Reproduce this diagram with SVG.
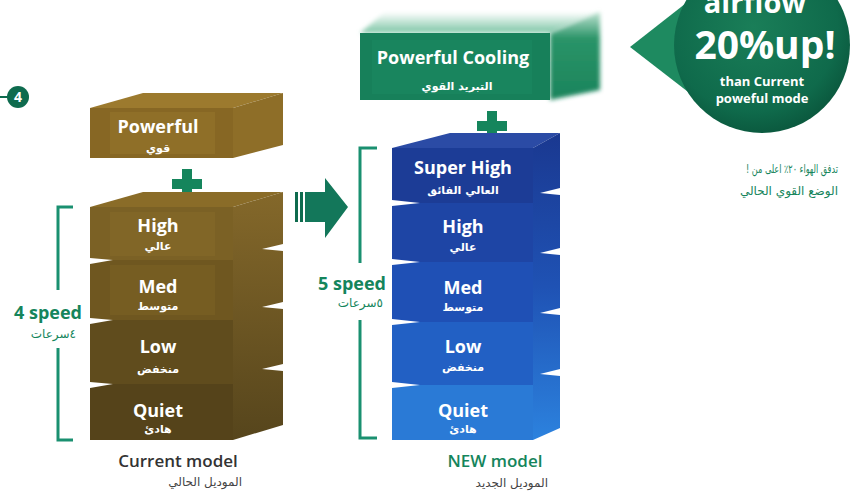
<svg xmlns="http://www.w3.org/2000/svg" width="865" height="491" viewBox="0 0 865 491">
<defs>
<style>
.lbl{font-family:"Open Sans","DejaVu Sans",sans-serif;font-weight:700;font-size:18px;fill:#fff;text-anchor:middle}
.ar{font-family:"DejaVu Sans","Noto Sans",sans-serif;font-weight:700;font-size:11px;fill:#fff;text-anchor:middle}
.grn{fill:#15855c}
.brk{fill:none;stroke:#1a9070;stroke-width:3}
.notch{fill:#fff}
.cap{font-family:"Open Sans","DejaVu Sans",sans-serif;font-size:17px;font-weight:600;text-anchor:middle}
</style>
<linearGradient id="gTop" x1="0" y1="1" x2="0" y2="0">
<stop offset="0" stop-color="#7cc5a5"/><stop offset="1" stop-color="#ffffff"/>
</linearGradient>
<linearGradient id="gRightG" x1="0" y1="0" x2="0" y2="1">
<stop offset="0" stop-color="#bfe3d2"/><stop offset="0.3" stop-color="#2a9468"/><stop offset="1" stop-color="#1b845c"/>
</linearGradient>
<linearGradient id="gBlueR" x1="0" y1="0" x2="0" y2="1">
<stop offset="0" stop-color="#1a3890"/><stop offset="0.5" stop-color="#1f52b4"/><stop offset="1" stop-color="#2c82de"/>
</linearGradient>
<linearGradient id="gBrownR" x1="0" y1="0" x2="0" y2="1">
<stop offset="0" stop-color="#84682a"/><stop offset="1" stop-color="#56451c"/>
</linearGradient>
<radialGradient id="gCirc" cx="0.45" cy="0.4" r="0.6">
<stop offset="0" stop-color="#1a7e58"/><stop offset="0.8" stop-color="#0f6a4b"/><stop offset="1" stop-color="#0b5a3f"/>
</radialGradient>
<filter id="soft" x="-10%" y="-30%" width="120%" height="160%"><feGaussianBlur stdDeviation="2"/></filter>
</defs>
<rect width="865" height="491" fill="#fff"/>

<g id="badge-4">
<line x1="0" y1="97" x2="8" y2="97" stroke="#0e6b4e" stroke-width="2"/>
<circle cx="18" cy="97" r="11" fill="#0e6b4e"/>
<text x="18" y="102" font-family="Open Sans, DejaVu Sans, sans-serif" font-weight="700" font-size="14" fill="#fff" text-anchor="middle">4</text>
</g>

<!-- Left current model -->
<g id="current-powerful">
<polygon points="90,108 143,93 283,93 233,108" fill="#9c7a2e"/>
<polygon points="233,108 283,93 283,145 233,158" fill="#8e6e28"/>
<rect x="90" y="108" width="143" height="50" fill="#876724"/>
<rect x="110" y="112" width="105" height="42" fill="#94742c" opacity="0.6"/>
<text class="lbl" x="158" y="133">Powerful</text>
<text class="ar" x="158" y="152">قوي</text>
</g>
<g id="plus-left">
<rect x="172" y="179" width="30" height="10" class="grn"/>
<rect x="182" y="169" width="10" height="30" class="grn"/>
</g>
<g id="current-stack">
<polygon points="90,207 143,192 283,192 233,207" fill="#8a6c28"/>
<polygon points="233,207 283,192 283,425 233,440" fill="url(#gBrownR)"/>
<g id="current-high">
<rect x="90" y="207" width="143" height="53" fill="#7b6125"/>
<rect x="110" y="212" width="105" height="44" fill="#86692a" opacity="0.6"/>
<text class="lbl" x="158" y="232">High</text>
<text class="ar" x="158" y="250">عالي</text>
</g>
<g id="current-med">
<rect x="90" y="260" width="143" height="60" fill="#6f5720"/>
<rect x="110" y="265" width="105" height="50" fill="#7b6025" opacity="0.6"/>
<text class="lbl" x="158" y="293">Med</text>
<text class="ar" x="158" y="310">متوسط</text>
</g>
<g id="current-low">
<rect x="90" y="320" width="143" height="64" fill="#604c1d"/>
<text class="lbl" x="158" y="353">Low</text>
<text class="ar" x="158" y="373">منخفض</text>
</g>
<g id="current-quiet">
<rect x="90" y="384" width="143" height="56" fill="#55431a"/>
<text class="lbl" x="158" y="417">Quiet</text>
<text class="ar" x="158" y="433">هادئ</text>
</g>
<polygon class="notch" points="90,258 113,260 90,264"/>
<polygon class="notch" points="90,318 113,320 90,324"/>
<polygon class="notch" points="90,382 113,384 90,388"/>
<polygon class="notch" points="283,244 262,249 283,251"/>
<polygon class="notch" points="283,302 262,307 283,309"/>
<polygon class="notch" points="283,364 262,369 283,371"/>
</g>
<g id="bracket-left">
<polyline class="brk" points="73,207 58,207 58,290"/>
<polyline class="brk" points="58,348 58,440 73,440"/>
<text x="82" y="319" font-family="Open Sans, DejaVu Sans, sans-serif" font-weight="700" font-size="18" text-anchor="end" class="grn">4 speed</text>
<text x="76" y="338" font-family="DejaVu Sans, sans-serif" font-size="12" text-anchor="end" class="grn">٤سرعات</text>
</g>
<text class="cap" x="178" y="467" fill="#333">Current model</text>
<text x="242" y="486" font-family="DejaVu Sans, sans-serif" font-size="12" text-anchor="end" fill="#444">الموديل الحالي</text>

<!-- Arrow -->
<g id="connectors">
<rect x="295" y="192" width="3" height="30" fill="#0e6b4e"/>
<rect x="300" y="192" width="3" height="30" fill="#0e6b4e"/>
<polygon points="305,192 325,192 325,178 348,207 325,238 325,222 305,222" fill="#13775a"/>
</g>

<!-- New model -->
<g id="new-powerful-cooling">
<polygon points="360,33 385,12 600,12 550,33" fill="url(#gTop)" filter="url(#soft)"/>
<polygon points="550,33 600,12 600,90 550,100" fill="url(#gRightG)" filter="url(#soft)"/>
<rect x="360" y="33" width="190" height="67" fill="#17805a"/>
<rect x="372" y="40" width="160" height="54" fill="#1b8a61" opacity="0.5"/>
<text class="lbl" x="453" y="64">Powerful Cooling</text>
<text class="ar" x="457" y="90">التبريد القوي</text>
</g>
<g id="plus-right">
<rect x="477" y="121" width="30" height="10" class="grn"/>
<rect x="487" y="111" width="10" height="30" class="grn"/>
</g>
<g id="new-stack">
<polygon points="392,148 450,133 560,133 533,148" fill="#2b4ba5"/>
<polygon points="533,148 560,133 560,428 533,440" fill="url(#gBlueR)"/>
<g id="new-superhigh">
<rect x="392" y="148" width="141" height="55" fill="#1c3c96"/>
<text class="lbl" x="463" y="174">Super High</text>
<text class="ar" x="463" y="194">العالي الفائق</text>
</g>
<g id="new-high">
<rect x="392" y="203" width="141" height="59" fill="#1e45a5"/>
<text class="lbl" x="463" y="233">High</text>
<text class="ar" x="463" y="251">عالي</text>
</g>
<g id="new-med">
<rect x="392" y="262" width="141" height="60" fill="#1f50b5"/>
<text class="lbl" x="463" y="294">Med</text>
<text class="ar" x="463" y="311">متوسط</text>
</g>
<g id="new-low">
<rect x="392" y="322" width="141" height="63" fill="#2260c4"/>
<text class="lbl" x="463" y="353">Low</text>
<text class="ar" x="463" y="371">منخفض</text>
</g>
<g id="new-quiet">
<rect x="392" y="385" width="141" height="55" fill="#2a7ad6"/>
<text class="lbl" x="463" y="417">Quiet</text>
<text class="ar" x="463" y="433">هادئ</text>
</g>
<polygon class="notch" points="392,200 420,203 392,206"/>
<polygon class="notch" points="392,259 420,262 392,265"/>
<polygon class="notch" points="392,319 420,322 392,325"/>
<polygon class="notch" points="392,382 420,385 392,388"/>
<polygon class="notch" points="560,188 540,193 560,195"/>
<polygon class="notch" points="560,248 540,253 560,255"/>
<polygon class="notch" points="560,308 540,313 560,315"/>
<polygon class="notch" points="560,369 540,374 560,376"/>
</g>
<g id="bracket-right">
<polyline class="brk" points="377,148 360,148 360,263"/>
<polyline class="brk" points="360,320 360,438 377,438"/>
<text x="386" y="290" font-family="Open Sans, DejaVu Sans, sans-serif" font-weight="700" font-size="18" text-anchor="end" class="grn">5 speed</text>
<text x="383" y="307" font-family="DejaVu Sans, sans-serif" font-size="12" text-anchor="end" class="grn">٥سرعات</text>
</g>
<text class="cap" x="495" y="467" fill="#15855c" font-weight="700">NEW model</text>
<text x="548" y="487" font-family="DejaVu Sans, sans-serif" font-size="12" text-anchor="end" fill="#444">الموديل الجديد</text>

<!-- Bubble -->
<g id="airflow-bubble">
<polygon points="630,47 690,0 705,105" fill="#1e8a60"/>
<circle cx="762" cy="45" r="88" fill="url(#gCirc)"/>
<text x="755" y="13" font-family="Open Sans, DejaVu Sans, sans-serif" font-weight="700" font-size="29" fill="#fff" text-anchor="middle">airflow</text>
<text x="765" y="59" font-family="Open Sans, DejaVu Sans, sans-serif" font-weight="700" font-size="39" fill="#fff" text-anchor="middle">20%up!</text>
<text x="762" y="86" font-family="Open Sans, DejaVu Sans, sans-serif" font-weight="700" font-size="13" fill="#fff" text-anchor="middle">than Current</text>
<text x="762" y="103" font-family="Open Sans, DejaVu Sans, sans-serif" font-weight="700" font-size="13" fill="#fff" text-anchor="middle">poweful mode</text>
</g>
<g id="airflow-arabic">
<text x="838" y="173" font-family="DejaVu Sans, sans-serif" font-size="12" text-anchor="end" class="grn" textLength="92" lengthAdjust="spacingAndGlyphs">تدفق الهواء ٢٠٪ اعلى من !&#x200F;</text>
<text x="838" y="195" font-family="DejaVu Sans, sans-serif" font-size="12" text-anchor="end" class="grn">الوضع القوي الحالي</text>
</g>
</svg>
